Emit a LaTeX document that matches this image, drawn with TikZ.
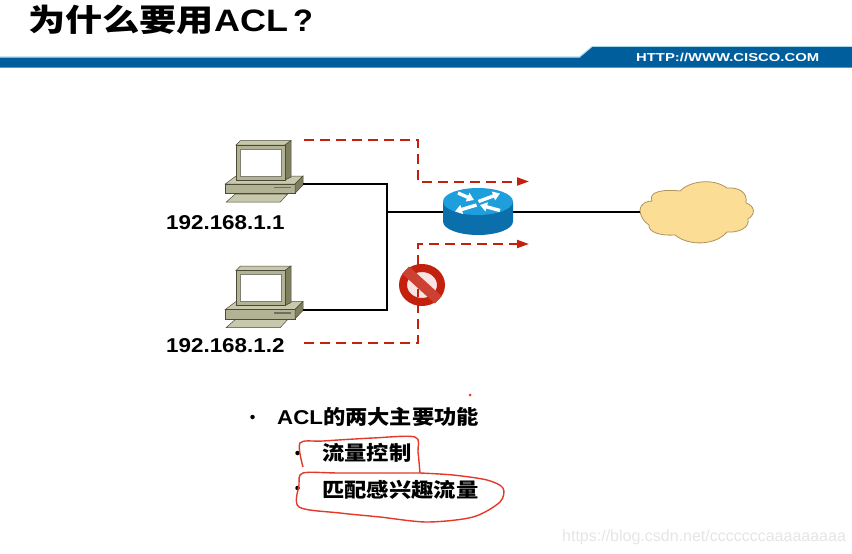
\documentclass[tikz,border=0pt]{standalone}
\usepackage{graphicx}
\usepackage{fontspec}
\setmainfont{Liberation Sans}
\newfontfamily\cjkfont{Noto Sans CJK SC}
\usetikzlibrary{positioning,arrows.meta,shapes.geometric}
\definecolor{ciscoblue}{HTML}{005E9C}
\definecolor{bandlight}{HTML}{A8D8EE}
\definecolor{flowred}{HTML}{C4200E}
\definecolor{penred}{HTML}{E4382A}
\definecolor{pcbody}{HTML}{B2B294}
\definecolor{pctop}{HTML}{C8C8AC}
\definecolor{pcside}{HTML}{7E7E60}
\definecolor{pcline}{HTML}{4A4A36}
\definecolor{routertop}{HTML}{1E9FDC}
\definecolor{routerside}{HTML}{0B6FAB}
\definecolor{cloudfill}{HTML}{FBDD96}
\definecolor{cloudline}{HTML}{B0935A}
\newcommand{\wider}[2]{\scalebox{#1}[1]{#2}}
\tikzset{
  pics/pc-icon/.style={
    code={
      % base unit and keyboard
      \fill[pctop, draw=pcline, line width=.5pt] (-9.7,62) -- (-.7,54) -- (51.7,54) -- (44.3,62) -- cycle;
      \fill[pctop, draw=pcline, line width=.5pt] (-10.7,44) -- (0,36) -- (67,36) -- (59,44) -- cycle;
      \fill[pcbody, draw=pcline, line width=.5pt] (-10.7,44) rectangle (59,53.3);
      \fill[pcside, draw=pcline, line width=.5pt] (59,44) -- (67,36) -- (67,45) -- (59,53.3) -- cycle;
      \draw[pcline!80!white, line width=1.2pt] (38,47.5) -- (55,47.5);
      % monitor
      \fill[pctop, draw=pcline, line width=.5pt] (0,5) -- (4.5,.5) -- (55,.5) -- (49,5) -- cycle;
      \fill[pcside, draw=pcline, line width=.5pt] (49,5) -- (55,.5) -- (55,37) -- (49,40) -- cycle;
      \fill[pcbody, draw=pcline, line width=.9pt] (0,5) rectangle (49,40);
      \fill[white, draw=pcline!70!white, line width=.9pt] (4,9) rectangle (45,36);
      \coordinate (-port) at (67,44);
    }
  },
  pics/router-icon/.style={
    code={
      \fill[routerside] (-35,0) -- (-35,20) arc[start angle=180, end angle=0, x radius=35, y radius=13.5] -- (35,0) -- cycle;
      \fill[routertop] (0,0) ellipse[x radius=35, y radius=13.5];
      \draw[router-arrow] (-20,-8.5) -- (-4,-1.5);
      \draw[router-arrow] (.5,0) -- (22,-8);
      \draw[router-arrow] (-1.5,3.5) -- (-23,10);
      \draw[router-arrow] (22,9) -- (2,3.5);
      \coordinate (-west) at (-35,10.5);
      \coordinate (-east) at (35,10.5);
    }
  },
  router-arrow/.style={draw=white, line width=3.4pt, -{Triangle[length=7pt,width=9pt]}},
}
\begin{document}
\begin{tikzpicture}[
    x=1pt, y=-1pt,
    titlename/.style={font=\fontsize{31}{31}\bfseries, anchor=west, inner sep=0pt},
    hostname/.style={font=\fontsize{20}{20}\bfseries, anchor=west, inner sep=0pt},
    itemname/.style={font=\fontsize{20}{20}\bfseries, anchor=west, inner sep=0pt},
    dotname/.style={circle, fill=black, inner sep=0pt, minimum size=4.5pt},
    wire/.style={draw=black, line width=2pt},
    flow/.style={draw=flowred, line width=2pt, dash pattern=on 10pt off 6pt},
    pen/.style={draw=penred, line width=1.4pt, smooth}
  ]
  \useasboundingbox (0,0) rectangle (852,554);

  % title and header band
  \node (title) at (28,20) [titlename] {\wider{1.2}{{\cjkfont 为什么要用}}\wider{1.16}{ACL}\hspace{5pt}\wider{1.05}{?}};
  \fill[bandlight] (0,56.3) -- (579.5,56.3) -- (592,46) -- (852,46) -- (852,47) -- (592.5,47) -- (580,57.5) -- (0,57.5) -- cycle;
  \fill[ciscoblue] (0,57.5) -- (580,57.5) -- (592.5,47) -- (852,47) -- (852,67.7) -- (0,67.7) -- cycle;
  \node (url) at (636,57) [anchor=west, inner sep=0pt, text=white, font=\fontsize{11.5}{11.5}\bfseries] {\wider{1.29}{HTTP://WWW.CISCO.COM}};

  % hosts, router and cloud
  \pic (pc-one) at (236,140) {pc-icon};
  \pic (pc-two) at (236,265.5) {pc-icon};
  \pic (router) at (478,201.5) {router-icon};
  \node (pc-one-ip) at (166,222.5) [hostname] {\wider{1.12}{192.168.1.1}};
  \node (pc-two-ip) [below=123pt of pc-one-ip.west, anchor=west, hostname] {\wider{1.12}{192.168.1.2}};

  \fill[cloudfill, draw=cloudline, line width=.8pt]
    (640,210) .. controls (641,203) and (647,201) .. (652,201)
    .. controls (648,192) and (662,189) .. (680,191)
    .. controls (688,182) and (712,177) .. (727,188)
    .. controls (738,187) and (748,192) .. (746,203)
    .. controls (755,206) and (756,214) .. (748,219)
    .. controls (750,228) and (738,233) .. (727,232)
    .. controls (715,246) and (688,246) .. (675,235)
    .. controls (660,236) and (648,232) .. (649,225)
    .. controls (644,222) and (640,216) .. (640,210) -- cycle;
  \coordinate (cloud-west) at (640,212);

  % wiring
  \coordinate (trunk-mid) at (387,212);
  \draw[wire] (pc-one-port) -| (trunk-mid) |- (pc-two-port);
  \draw[wire] (trunk-mid) -- (router-west);
  \draw[wire] (router-east) -- (cloud-west);

  % traffic
  \coordinate (flow-a-start) at (304,139.5);
  \coordinate (flow-a-bend) at (418,160);
  \coordinate (flow-a-end) at (529,181.5);
  \coordinate (flow-b-start) at (304,343);
  \coordinate (flow-b-bend) at (418,300);
  \coordinate (flow-b-end) at (529,244);
  \draw[flow, -{Triangle[length=12pt,width=8pt]}] (flow-a-start) -| (flow-a-bend) |- (flow-a-end);
  \draw[flow, -{Triangle[length=12pt,width=8pt]}] (flow-b-start) -| (flow-b-bend) |- (flow-b-end);

  % blocked sign
  \node (no-entry) at (422,285) [draw=flowred, line width=8pt, fill=white!88!flowred, ellipse, minimum width=38pt, minimum height=34pt, inner sep=0pt] {};
  \draw[draw=flowred!85!white, line width=10pt] (no-entry.north west) -- (no-entry.south east);
  \draw[flowred, line width=1.6pt] (418,289) -- (418,297);

  % list below the network
  \node (acl-dot) at (252.5,417) [dotname] {};
  \node (acl-main) at (277,417) [itemname] {\wider{1.115}{ACL{\cjkfont 的两大主要功能}}};
  \node (flow-dot) at (297.5,453) [dotname] {};
  \node (flow-item) [below=36pt of acl-main.west, xshift=45pt, anchor=west, itemname] {\wider{1.115}{\cjkfont 流量控制}};
  \node (match-dot) at (297.5,488) [dotname] {};
  \node (match-item) [below=36.5pt of flow-item.west, anchor=west, itemname] {\wider{1.115}{\cjkfont 匹配感兴趣流量}};

  % hand marks
  \draw[pen] plot coordinates {(303,467) (300,443) (323,441) (373,438) (415,437) (418,452) (420,473)};
  \draw[pen] plot coordinates {(420,473) (340,473) (303,473) (299,485) (299,507) (340,513) (380,517) (427,522) (473,517) (500,502) (503,488) (487,480) (453,475) (420,473)};
  \fill[penred] (470,395) circle[radius=1.5];

  \node (watermark) at (562,537) [anchor=west, inner sep=0pt, text=black!10, font=\fontsize{16}{16}\selectfont] {https://blog.csdn.net/cccccccaaaaaaaaa};
\end{tikzpicture}
\end{document}
